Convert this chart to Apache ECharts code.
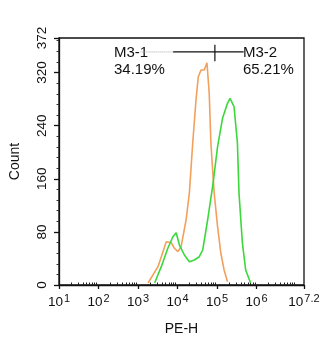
<!DOCTYPE html>
<html>
<head>
<meta charset="utf-8">
<script src="https://cdn.jsdelivr.net/npm/echarts@6/dist/echarts.min.js"></script>
<style>
  html, body { margin: 0; padding: 0; background: #fff; }
  #chart { width: 328px; height: 350px; }
</style>
</head>
<body>
<div id="chart"></div>
<script>
// Histogram traces: x is log10(PE-H), y is event count
const orangeLogX = [3.254, 3.505, 3.714, 3.756, 3.839, 3.915, 4.008, 4.090, 4.216, 4.299, 4.384, 4.467, 4.525, 4.593, 4.676, 4.744, 4.801, 4.844, 4.927, 5.013, 5.095, 5.178, 5.264];
const orangeCount = [3, 27.6, 65.2, 67.8, 63.7, 55.7, 50.2, 57.7, 97.9, 138.6, 213.9, 278.6, 313.7, 323.8, 323.8, 334.8, 289.2, 213.9, 138.6, 87.8, 48.2, 22.6, 5];
const greenLogX = [3.420, 3.588, 3.756, 3.882, 3.965, 4.048, 4.173, 4.299, 4.425, 4.550, 4.636, 4.761, 4.887, 5.013, 5.138, 5.264, 5.329, 5.430, 5.515, 5.555, 5.641, 5.724, 5.849];
const greenCount = [3, 27.6, 55.7, 72.7, 78.8, 60.2, 45.2, 35.1, 37.7, 42.6, 52.7, 97.9, 148.0, 208.3, 251.1, 273.6, 281.2, 268.5, 213.9, 138.6, 63.3, 22.6, 3];

// Axis ticks
const xMajorTicks = [1, 2, 3, 4, 5, 6, 7.2];
const yMajorTicks = [0, 80, 160, 240, 320, 372];

// Marker gate M3-1 / M3-2 (log10 positions and count level)
const gateLevel = [351];
const gateDotted = [3.06, 3.889];
const gateSolid = [3.889, 5.673];
const gateSplit = [4.945];
const gateSplitSpan = [337, 362];
const gateLabels = ['M3-1', 'M3-2'];
const gatePercents = ['34.19%', '65.21%'];

// Minor log ticks (2..9 within each decade)
const xMinorTicks = [];
for (let d = 1; d <= 7; d++) {
  for (let k = 2; k <= 9; k++) {
    const v = d + Math.log10(k);
    if (v < 7.2) xMinorTicks.push(v);
  }
}
const yMinorTicks = [];
for (let v = 16; v < 372; v += 16) {
  if (v % 80 !== 0) yMinorTicks.push(v);
}

const pair = (xs, ys) => xs.map((x, i) => [x, ys[i]]);
const FONT = 'Liberation Sans, Arial, sans-serif';

const chart = echarts.init(document.getElementById('chart'), null, { renderer: 'canvas' });

chart.setOption({
  animation: false,
  backgroundColor: '#ffffff',
  grid: {
    left: 57, right: 24, top: 38, bottom: 65,
    show: true, borderColor: '#111', borderWidth: 1.3, backgroundColor: 'transparent'
  },
  xAxis: [
    {
      type: 'value', min: 1, max: 7.2, position: 'bottom',
      name: 'PE-H', nameLocation: 'middle', nameGap: 37,
      nameTextStyle: { fontFamily: FONT, fontSize: 14, color: '#111' },
      axisLine: { show: true, lineStyle: { color: '#111', width: 1.3 } },
      axisTick: { show: true, customValues: xMajorTicks, length: 4, lineStyle: { color: '#111', width: 1.3 } },
      splitLine: { show: false },
      axisLabel: {
        customValues: xMajorTicks, margin: 8, color: '#111',
        formatter: v => '{b|10}{s|' + v + '}',
        rich: {
          b: { fontFamily: FONT, fontSize: 13.5, color: '#111', verticalAlign: 'bottom', lineHeight: 16 },
          s: { fontFamily: FONT, fontSize: 11, color: '#111', verticalAlign: 'top', lineHeight: 11, padding: [0, 0, 0, 1] }
        }
      }
    },
    {
      type: 'value', min: 1, max: 7.2, position: 'bottom', gridIndex: 0,
      axisLine: { show: false },
      axisTick: { show: true, inside: true, customValues: xMinorTicks, length: 2.5, lineStyle: { color: '#222', width: 1 } },
      axisLabel: { show: false },
      splitLine: { show: false }
    }
  ],
  yAxis: [
    {
      type: 'value', min: 0, max: 372,
      name: 'Count', nameLocation: 'middle', nameGap: 37, nameRotate: 90,
      nameTextStyle: { fontFamily: FONT, fontSize: 14, color: '#111' },
      axisLine: { show: true, lineStyle: { color: '#111', width: 1.3 } },
      axisTick: { show: true, customValues: yMajorTicks, length: 5, lineStyle: { color: '#111', width: 1.3 } },
      splitLine: { show: false },
      axisLabel: {
        customValues: yMajorTicks, rotate: 90, margin: 10,
        fontFamily: FONT, fontSize: 13.5, color: '#111'
      }
    },
    {
      type: 'value', min: 0, max: 372, position: 'left', gridIndex: 0,
      axisLine: { show: false },
      axisTick: { show: true, customValues: yMinorTicks, length: 2.5, lineStyle: { color: '#333', width: 1 } },
      axisLabel: { show: false },
      splitLine: { show: false }
    }
  ],
  series: [
    {
      type: 'line', data: pair(orangeLogX, orangeCount), showSymbol: false,
      lineStyle: { color: '#f2a05c', width: 1.6 }, z: 3
    },
    {
      type: 'line', data: pair(greenLogX, greenCount), showSymbol: false,
      lineStyle: { color: '#3ad83a', width: 1.6 }, z: 4
    },
    {
      type: 'line', showSymbol: false,
      data: gateDotted.map(x => [x, gateLevel[0]]),
      lineStyle: { color: '#aaa', width: 1, type: 'dotted' }, z: 5
    },
    {
      type: 'line', showSymbol: false,
      data: gateSolid.map(x => [x, gateLevel[0]]),
      lineStyle: { color: '#111', width: 1.2 }, z: 5
    },
    {
      type: 'line', showSymbol: false,
      data: gateSplitSpan.map(y => [gateSplit[0], y]),
      lineStyle: { color: '#111', width: 1.2 }, z: 5
    }
  ],
  graphic: [
    { type: 'text', left: 114, top: 45, style: { text: gateLabels[0], font: '15px ' + FONT, fill: '#111' } },
    { type: 'text', left: 114, top: 62, style: { text: gatePercents[0], font: '15px ' + FONT, fill: '#111' } },
    { type: 'text', left: 243, top: 45, style: { text: gateLabels[1], font: '15px ' + FONT, fill: '#111' } },
    { type: 'text', left: 243, top: 62, style: { text: gatePercents[1], font: '15px ' + FONT, fill: '#111' } }
  ]
});
</script>
</body>
</html>
